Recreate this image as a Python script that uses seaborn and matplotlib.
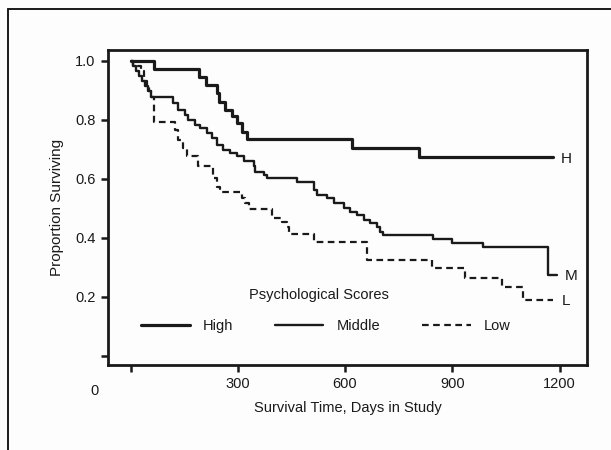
import matplotlib
matplotlib.use('Agg')
import matplotlib.pyplot as plt
from matplotlib.lines import Line2D
import seaborn as sns
import pandas as pd

# Kaplan-Meier style step data (days, proportion surviving)
high_days = [0, 65, 192, 211, 241, 248, 264, 283, 297, 311, 325, 619, 807, 1182]
high_surv = [1.0, 0.973, 0.947, 0.919, 0.890, 0.862, 0.834, 0.812, 0.789, 0.760, 0.735, 0.706, 0.674, 0.674]

mid_days = [0, 7, 15, 24, 32, 41, 49, 57, 120, 134, 153, 162, 180, 194, 213, 227, 241, 260, 278,
            297, 316, 344, 348, 372, 381, 465, 512, 521, 549, 568, 596, 614, 633, 652, 670, 689,
            698, 706, 847, 899, 987, 1169, 1193]
mid_surv = [1.0, 0.983, 0.966, 0.949, 0.932, 0.915, 0.898, 0.879, 0.856, 0.834, 0.817, 0.800, 0.783,
            0.772, 0.755, 0.737, 0.715, 0.698, 0.687, 0.676, 0.659, 0.642, 0.625, 0.614, 0.602, 0.591,
            0.563, 0.546, 0.535, 0.518, 0.500, 0.489, 0.478, 0.461, 0.450, 0.438, 0.421, 0.410, 0.395,
            0.384, 0.370, 0.275, 0.275]

low_days = [0, 8, 28, 38, 45, 52, 58, 66, 125, 134, 148, 157, 190, 232, 241, 250, 311, 320, 330,
            395, 423, 437, 442, 512, 661, 843, 936, 1039, 1099, 1183]
low_surv = [1.0, 0.983, 0.966, 0.932, 0.915, 0.898, 0.876, 0.794, 0.766, 0.732, 0.704, 0.678, 0.642,
            0.602, 0.574, 0.557, 0.535, 0.518, 0.497, 0.467, 0.455, 0.438, 0.414, 0.385, 0.325, 0.297,
            0.263, 0.233, 0.190, 0.190]

groups = ['High', 'Middle', 'Low']
end_labels = ['H', 'M', 'L']
x_ticks = [0, 300, 600, 900, 1200]
y_ticks = [0.0, 0.2, 0.4, 0.6, 0.8, 1.0]

df = pd.concat([
    pd.DataFrame({'days': high_days, 'surv': high_surv, 'group': 'High'}),
    pd.DataFrame({'days': mid_days, 'surv': mid_surv, 'group': 'Middle'}),
    pd.DataFrame({'days': low_days, 'surv': low_surv, 'group': 'Low'}),
])

sns.set_style('ticks')
plt.rcParams['font.family'] = ['Liberation Sans Narrow', 'Liberation Sans', 'DejaVu Sans']
ink = '#1a1a1a'

fig = plt.figure(figsize=(6.11, 4.5), dpi=100)
fig.patch.set_facecolor('#fdfdfd')
ax = fig.add_axes([0.1768, 0.1889, 0.784, 0.70])
ax.set_facecolor('#fdfdfd')

styles = {'High': dict(lw=2.3), 'Middle': dict(lw=1.7), 'Low': dict(lw=1.6, dashes=(3, 2))}
for g in groups:
    sub = df[df['group'] == g]
    kw = styles[g]
    sns.lineplot(data=sub, x='days', y='surv', ax=ax, color=ink, drawstyle='steps-post',
                 lw=kw['lw'], estimator=None, label=g)
    if 'dashes' in kw:
        ax.lines[-1].set_dashes(kw['dashes'])

# end labels
for g, lab in zip(groups, end_labels):
    sub = df[df['group'] == g]
    ax.text(sub['days'].iloc[-1] + 22, sub['surv'].iloc[-1] - 0.005, lab, ha='left', va='center',
            fontsize=11, color=ink)

ax.set_xlim(-63, 1277)
ax.set_ylim(-0.031, 1.037)
ax.set_xticks(x_ticks)
ax.set_xticklabels([''] + [str(t) for t in x_ticks[1:]])
ax.set_yticks(y_ticks)
ax.set_yticklabels([''] + [f'{t:.1f}' for t in y_ticks[1:]])
ax.tick_params(direction='out', length=5, width=1.8, colors=ink, labelsize=10.5, pad=4)
for s in ax.spines.values():
    s.set_linewidth(2.0)
    s.set_color(ink)

ax.text(-102, -0.095, '0', ha='center', va='top', fontsize=10.5, color=ink)

ax.set_xlabel('Survival Time, Days in Study', fontsize=10.5, color=ink, labelpad=7)
ax.set_ylabel('Proportion Surviving', fontsize=11, color=ink, labelpad=8)

leg = ax.legend(ncol=3, frameon=False, loc='center',
                bbox_to_anchor=(0.455, 0.125), fontsize=10.5,
                handlelength=3.3, handletextpad=0.9, columnspacing=2.9)
for t in leg.get_texts():
    t.set_color(ink)
ax.text(0.44, 0.222, 'Psychological Scores', transform=ax.transAxes, ha='center', va='center',
        fontsize=10.5, color=ink)

# outer frame of the scanned figure (left and top edges)
fig.add_artist(Line2D([0.013, 0.013], [0.0, 0.98], color=ink, lw=1.4, transform=fig.transFigure))
fig.add_artist(Line2D([0.013, 1.0], [0.98, 0.98], color=ink, lw=1.4, transform=fig.transFigure))

fig.savefig('out.png', dpi=100, facecolor=fig.get_facecolor())
